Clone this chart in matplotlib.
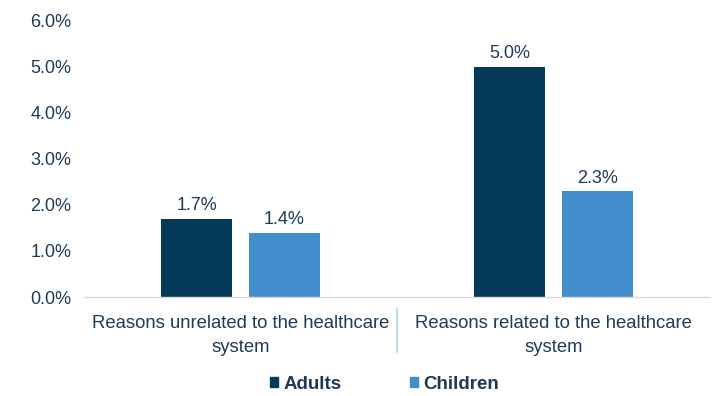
import numpy as np
import matplotlib.pyplot as plt
from matplotlib.patches import Patch

# Share of people with unmet needs, by reason
categories = ["Reasons unrelated to the healthcare\nsystem",
              "Reasons related to the healthcare\nsystem"]
adults = [1.7, 5.0]
children = [1.4, 2.3]
series_names = ["Adults", "Children"]

ADULT_COLOR = "#063a5b"
CHILD_COLOR = "#428ecd"
TEXT_COLOR = "#1d3b58"

plt.rcParams["font.family"] = ["Liberation Sans", "DejaVu Sans"]

fig = plt.figure(figsize=(7.15, 3.96), dpi=100)
ax = fig.add_axes([0.1175, 0.25, 0.8755, 0.697])

x = np.arange(len(categories))
width = 0.224
offset = 0.1406

b1 = ax.bar(x - offset, adults, width, color=ADULT_COLOR)
b2 = ax.bar(x + offset, children, width, color=CHILD_COLOR)

for bars, vals in ((b1, adults), (b2, children)):
    for rect, v in zip(bars, vals):
        ax.text(rect.get_x() + rect.get_width() / 2, v + 0.1, f"{v:.1f}%",
                ha="center", va="bottom", fontsize=13, color=TEXT_COLOR)

ax.set_xlim(-0.5, 1.5)
ax.set_ylim(0, 6)
ax.set_yticks(np.arange(0, 7, 1))
ax.set_yticklabels([f"{t:.1f}%" for t in range(7)])
ax.set_xticks(x)
ax.set_xticklabels(categories, fontsize=13.3, color=TEXT_COLOR, linespacing=1.5)
ax.tick_params(axis="y", length=0, labelsize=13, labelcolor=TEXT_COLOR, pad=9)
ax.tick_params(axis="x", length=0, pad=13)

for side in ("top", "right", "left"):
    ax.spines[side].set_visible(False)
ax.spines["bottom"].set_color("#d9d9d9")
ax.spines["bottom"].set_linewidth(1)

# divider between the two category labels
ax.plot([0.5, 0.5], [-0.25, -1.2], color="#a8d4f2", lw=1.2,
        clip_on=False, transform=ax.transData)

handles = [Patch(color=ADULT_COLOR), Patch(color=CHILD_COLOR)]
leg = fig.legend(handles, series_names, loc="center", bbox_to_anchor=(0.538, 0.03),
                 ncol=2, frameon=False, handlelength=0.45, handleheight=0.45,
                 handletextpad=0.3, columnspacing=3.6,
                 prop={"weight": "bold", "size": 13.5})
for t in leg.get_texts():
    t.set_color(TEXT_COLOR)

fig.savefig("out.png", dpi=100)
